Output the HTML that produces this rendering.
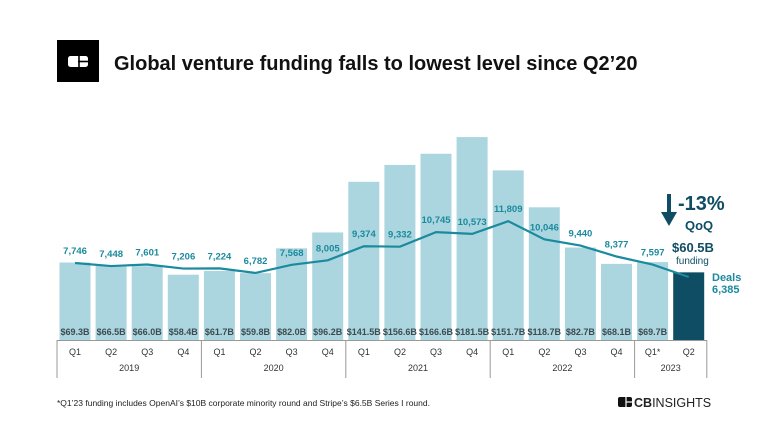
<!DOCTYPE html>
<html><head><meta charset="utf-8">
<style>
html,body{margin:0;padding:0;background:#fff;}
body{width:768px;height:432px;overflow:hidden;font-family:"Liberation Sans",sans-serif;}
</style></head>
<body>
<svg width="768" height="432" viewBox="0 0 768 432" xmlns="http://www.w3.org/2000/svg">
  <g>
    <rect x="57" y="40" width="42" height="42" fill="#000"/>
    <rect x="68" y="56" width="20" height="11" rx="2.5" fill="#fff"/>
    <line x1="79" y1="55" x2="79" y2="68" stroke="#000" stroke-width="1.6"/>
    <line x1="78" y1="61.5" x2="89" y2="61.5" stroke="#000" stroke-width="1.6"/>
  </g>
  <text x="114" y="70" font-size="20" font-weight="bold" fill="#111">Global venture funding falls to lowest level since Q2’20</text>
  <g id="bars"></g>
  <g id="line"></g>
  <g id="axis"></g>
  <g>
    <line x1="669" y1="194" x2="669" y2="214" stroke="#0e4d64" stroke-width="4"/>
    <polygon points="661,212 677,212 669,226" fill="#0e4d64"/>
    <text x="678" y="210" font-size="20" font-weight="bold" fill="#0e4d64">-13%</text>
    <text x="685" y="230" font-size="13" font-weight="bold" fill="#0e4d64">QoQ</text>
    <text x="672" y="252" font-size="13" font-weight="bold" fill="#0e4d64">$60.5B</text>
    <text x="676" y="264" font-size="10" fill="#0e4d64">funding</text>
    <text x="712" y="281" font-size="11" font-weight="bold" fill="#1b8a9e">Deals</text>
    <text x="712" y="293" font-size="11" font-weight="bold" fill="#1b8a9e">6,385</text>
  </g>
  <text x="57" y="406" font-size="8.5" fill="#222">*Q1’23 funding includes OpenAI’s $10B corporate minority round and Stripe’s $6.5B Series I round.</text>
  <g>
    <rect x="618" y="397" width="14" height="10" rx="2" fill="#111"/>
    <line x1="626" y1="396" x2="626" y2="408" stroke="#fff" stroke-width="1.2"/>
    <line x1="626" y1="402" x2="633" y2="402" stroke="#fff" stroke-width="1.2"/>
    <text x="634" y="407" font-size="12.5" fill="#222"><tspan font-weight="bold">CB</tspan>INSIGHTS</text>
  </g>
</svg>
<script>
const quarters=["Q1","Q2","Q3","Q4","Q1","Q2","Q3","Q4","Q1","Q2","Q3","Q4","Q1","Q2","Q3","Q4","Q1*","Q2"];
const years=["2019","2020","2021","2022","2023"];
const yearCounts=[4,4,4,4,2];
const funding=[69.3,66.5,66.0,58.4,61.7,59.8,82.0,96.2,141.5,156.6,166.6,181.5,151.7,118.7,82.7,68.1,69.7,60.5];
const deals=[7746,7448,7601,7206,7224,6782,7568,8005,9374,9332,10745,10573,11809,10046,9440,8377,7597,6385];
const ns="http://www.w3.org/2000/svg";
const x0=57, slot=36.1, bw=31, base=340;
const xS=i=>x0+i*slot;
const yF=v=>base-v*1.118;
const yD=d=>263-(d-7746)*0.0103;
function mk(t,a,p){const e=document.createElementNS(ns,t);for(const k in a)e.setAttribute(k,a[k]);p.appendChild(e);return e;}
const gb=document.getElementById('bars'),gl=document.getElementById('line'),ga=document.getElementById('axis');
funding.forEach((v,i)=>{
  const last=i===funding.length-1;
  const r=mk('rect',{x:xS(i)+2.5,y:yF(v),width:bw,height:base-yF(v),fill:last?'#0e4d64':'#abd6df'},gb);
  
  
  if(!last){
    const t=mk('text',{x:xS(i)+2.5+bw/2,y:335,'font-size':9,'font-weight':'bold',fill:'#3d4b50','text-anchor':'middle'},gb);
    t.textContent='$'+v.toFixed(1)+'B';
    
    
  }
});
const pts=deals.map((d,i)=>(xS(i)+slot/2)+','+yD(d)).join(' ');
const pl=mk('polyline',{points:pts,fill:'none',stroke:'#1b8a9e','stroke-width':2.2},gl);


deals.forEach((d,i)=>{
  if(i===deals.length-1)return;
  const t=mk('text',{x:xS(i)+slot/2,y:yD(d)-9,'font-size':9.5,'font-weight':'bold',fill:'#1b8a9e','text-anchor':'middle'},gl);
  t.textContent=d.toLocaleString('en-US');
  
  
});
mk('line',{x1:x0,y1:base+0.5,x2:xS(18),y2:base+0.5,stroke:'#999','stroke-width':1},ga);
quarters.forEach((q,i)=>{
  const t=mk('text',{x:xS(i)+slot/2,y:355,'font-size':9,fill:'#333','text-anchor':'middle'},ga);
  t.textContent=q;
  
  
});
let c=0;
mk('line',{x1:x0,y1:base,x2:x0,y2:378,stroke:'#999','stroke-width':1},ga);
years.forEach((y,k)=>{
  const s=c;c+=yearCounts[k];
  mk('line',{x1:xS(c),y1:base,x2:xS(c),y2:378,stroke:'#999','stroke-width':1},ga);
  const t=mk('text',{x:(xS(s)+xS(c))/2,y:371,'font-size':9,fill:'#333','text-anchor':'middle'},ga);
  t.textContent=y;
  
  
});
</script>
</body></html>
